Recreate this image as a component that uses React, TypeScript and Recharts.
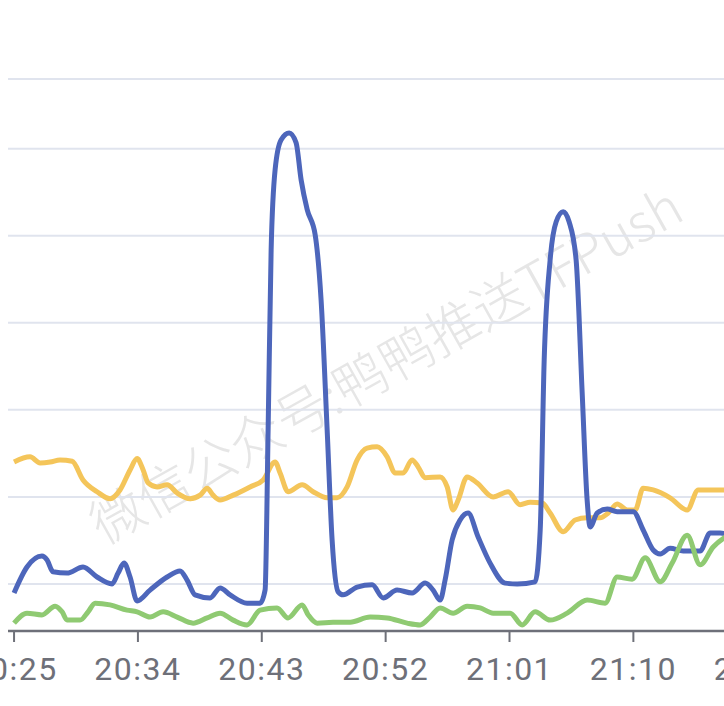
import { LineChart, Line, XAxis, YAxis, CartesianGrid } from 'recharts'

// minutes after 20:25, value
const yellow: [number, number][] = [
  [0, 24.0], [1.16, 24.6], [1.89, 23.9], [2.62, 24.0], [3.34, 24.25], [4.22, 24.1],
  [5.01, 21.95], [6.03, 20.6], [6.98, 19.8], [7.7, 20.8], [8.43, 23.1], [8.94, 24.4],
  [9.38, 23.1], [9.74, 21.6], [10.39, 21.15], [11.12, 21.4], [11.85, 20.45], [12.79, 19.8],
  [13.52, 20.2], [14.03, 21.0], [14.46, 20.2], [14.97, 19.65], [15.92, 20.2], [17.15, 21.15],
  [18.1, 21.95], [18.97, 24.0], [19.33, 22.75], [19.91, 20.6], [20.93, 21.4], [21.73, 20.6],
  [22.75, 19.9], [23.47, 19.9], [24.2, 21.15], [24.93, 24.25], [25.65, 25.6], [26.38, 25.75],
  [27.11, 24.6], [27.69, 22.75], [28.27, 22.75], [28.92, 24.25], [29.36, 23.45], [29.87, 22.2],
  [30.96, 22.3], [31.47, 21.15], [31.9, 18.5], [32.27, 19.65], [32.92, 22.3], [33.65, 21.6],
  [34.81, 20.0], [35.9, 20.6], [36.77, 19.1], [37.5, 19.4], [38.37, 19.3], [38.95, 18.15],
  [39.9, 16.0], [40.77, 17.35], [41.64, 17.6], [42.59, 17.6], [43.17, 18.15], [43.82, 19.2],
  [44.55, 18.5], [45.13, 18.5], [45.71, 21.0], [46.44, 20.8], [47.67, 19.9], [48.91, 18.5],
  [49.71, 20.8], [50.8, 20.8], [52.76, 20.8],
]

const blue: [number, number][] = [
  [0, 8.97], [0.94, 11.95], [2.03, 13.2], [2.4, 12.75], [2.83, 11.4], [3.85, 11.25],
  [5.01, 11.95], [6.03, 10.8], [7.12, 10.0], [7.56, 11.25], [7.99, 12.4], [8.43, 10.8],
  [8.94, 8.05], [9.88, 9.3], [11.12, 10.8], [12.06, 11.5], [12.57, 10.45], [13.15, 8.75],
  [14.24, 8.4], [14.97, 9.55], [15.7, 8.75], [16.93, 7.8], [17.88, 7.8], [18.24, 9.3],
  [18.46, 27.7], [18.68, 48.4], [18.97, 57.6], [19.4, 61.0], [19.99, 61.8], [20.49, 60.7],
  [20.86, 56.4], [21.3, 53.0], [21.88, 50.1], [22.31, 42.6], [22.75, 27.7], [23.11, 15.05],
  [23.55, 9.1], [23.91, 8.75], [24.93, 9.65], [26.02, 9.9], [26.82, 8.4], [27.83, 9.3],
  [28.92, 8.97], [29.87, 10.1], [30.45, 9.3], [30.96, 8.15], [31.32, 10.45], [31.83, 15.05],
  [32.41, 17.35], [32.99, 18.15], [33.72, 15.4], [34.59, 12.4], [35.68, 10.1], [36.56, 10.0],
  [37.86, 10.25], [38.23, 16.2], [38.52, 35.75], [38.95, 47.2], [39.39, 51.6], [39.9, 52.75],
  [40.33, 51.6], [40.84, 47.2], [41.28, 31.95], [41.64, 19.65], [41.86, 16.55], [42.37, 18.15],
  [43.1, 18.6], [43.82, 18.3], [44.99, 18.3], [45.71, 16.2], [46.44, 13.9], [46.95, 13.45],
  [47.67, 14.1], [48.62, 13.8], [49.85, 13.8], [50.58, 15.85], [51.31, 15.85], [52.76, 15.05],
]

const green: [number, number][] = [
  [0, 5.5], [0.94, 6.65], [2.03, 6.45], [2.98, 7.45], [3.49, 6.8], [3.85, 5.85],
  [4.8, 5.85], [5.38, 6.8], [5.89, 7.8], [6.98, 7.6], [8.21, 7.0], [8.94, 6.8],
  [9.88, 6.2], [10.83, 6.8], [11.85, 6.2], [13.01, 5.5], [14.03, 6.1], [14.97, 6.65],
  [15.92, 5.85], [16.93, 5.3], [17.88, 7.0], [19.11, 7.25], [19.91, 6.1], [20.93, 7.6],
  [21.37, 6.45], [22.02, 5.5], [23.18, 5.6], [24.42, 5.6], [25.87, 6.2], [27.11, 6.1],
  [28.56, 5.5], [29.51, 5.3], [30.23, 6.2], [30.96, 7.25], [31.9, 6.65], [32.92, 7.45],
  [33.87, 7.25], [34.81, 6.65], [36.05, 6.65], [36.92, 5.3], [37.86, 6.8], [38.95, 5.85],
  [40.19, 6.65], [41.64, 8.15], [42.95, 7.8], [43.82, 10.8], [44.91, 10.55], [45.86, 13.0],
  [46.95, 10.25], [47.82, 12.4], [48.91, 15.6], [49.85, 12.2], [50.8, 14.25], [51.6, 15.3],
  [52.76, 16.0],
]

const xTicks = [0, 9, 18, 27, 36, 45, 54]
const yTicks = [10, 20, 30, 40, 50, 60, 68]
const watermark = '微信公众号:鸭鸭推送TFPush'

const toRows = (pts: [number, number][]) => pts.map(([t, v]) => ({ t, v }))

const fmtTime = (t: number) => {
  const m = 20 * 60 + 25 + t
  return `${Math.floor(m / 60)}:${String(m % 60).padStart(2, '0')}`
}

export default function App() {
  return (
    <div
      style={{
        position: 'absolute',
        left: 0,
        top: 0,
        width: 724,
        height: 706,
        overflow: 'hidden',
        background: '#fff',
      }}
    >
      <div
        style={{
          position: 'absolute',
          left: 384,
          top: 362,
          transform: 'translate(-50%, -50%) rotate(-29.3deg)',
          whiteSpace: 'nowrap',
          fontFamily: '"Noto Sans CJK SC", sans-serif',
          fontWeight: 300,
          fontSize: 53,
          color: '#e6e6e6',
        }}
      >
        {watermark}
      </div>
      <div style={{ position: 'absolute', left: 0, top: 0 }}>
        <LineChart width={800} height={706} margin={{ top: 79, right: 29, bottom: 0, left: 8 }}>
          <CartesianGrid vertical={false} stroke="#e0e4ee" strokeWidth={2} />
          <XAxis
            type="number"
            dataKey="t"
            domain={[-0.44, 55]}
            ticks={xTicks}
            interval={0}
            allowDataOverflow
            tickFormatter={fmtTime}
            height={75}
            tickSize={11}
            tickMargin={15}
            axisLine={{ stroke: '#6e7079', strokeWidth: 2.5 }}
            tickLine={{ stroke: '#6e7079', strokeWidth: 2 }}
            tick={{ fontSize: 32, fill: '#6e7079', fontFamily: 'Roboto', letterSpacing: 1.5 }}
          />
          <YAxis
            type="number"
            domain={[4.6, 68]}
            ticks={yTicks}
            interval={0}
            width={0}
            tick={{ fontSize: 1, fill: 'transparent' }}
            axisLine={false}
            tickLine={false}
            allowDataOverflow
          />
          <Line data={toRows(yellow)} dataKey="v" type="monotone" stroke="#f4c55a" strokeWidth={5} dot={false} isAnimationActive={false} />
          <Line data={toRows(blue)} dataKey="v" type="monotone" stroke="#4d66bb" strokeWidth={5} dot={false} isAnimationActive={false} />
          <Line data={toRows(green)} dataKey="v" type="monotone" stroke="#8fca72" strokeWidth={5} dot={false} isAnimationActive={false} />
        </LineChart>
      </div>
    </div>
  )
}
